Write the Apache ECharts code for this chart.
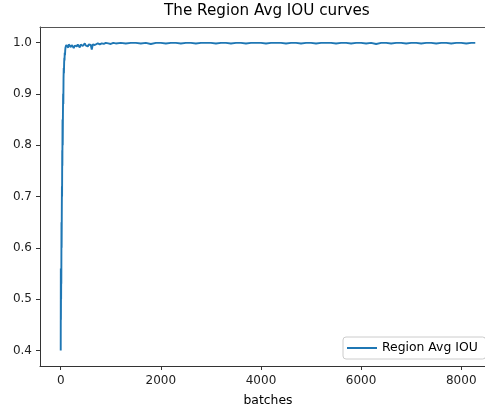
<!DOCTYPE html>
<html>
<head>
<meta charset="utf-8">
<script src="https://cdn.jsdelivr.net/npm/echarts@6/dist/echarts.min.js"></script>
<style>
  html, body { margin: 0; padding: 0; overflow: hidden; background: #fff; }
  #chart { width: 510px; height: 407px; }
</style>
</head>
<body>
<div id="chart"></div>
<script>
// x positions (batch numbers)
const batches = [
  0, 2, 4, 6, 8, 10, 12, 15, 18, 21, 24, 27, 30, 33, 36, 40, 44, 48, 52, 56,
  60, 64, 68, 72, 76, 80, 85, 90, 95, 100, 105, 110, 120, 130, 140, 150, 160, 175, 190, 205,
  220, 240, 260, 280, 300, 320, 340, 360, 380, 400, 420, 440, 460, 480, 500, 520, 540, 560, 580, 600,
  620, 640, 660, 680, 700, 740, 780, 820, 860, 900, 950, 1000, 1050, 1100,
  1200, 1300, 1400, 1500, 1600, 1700, 1800, 1900, 2000, 2100, 2200, 2300, 2400, 2500,
  2600, 2700, 2800, 2900, 3000, 3100, 3200, 3300, 3400, 3500, 3600, 3700, 3800, 3900,
  4000, 4100, 4200, 4300, 4400, 4500, 4600, 4700, 4800, 4900, 5000, 5100, 5200, 5300,
  5400, 5500, 5600, 5700, 5800, 5900, 6000, 6100, 6200, 6300, 6400, 6500, 6600, 6700,
  6800, 6900, 7000, 7100, 7200, 7300, 7400, 7500, 7600, 7700, 7800, 7900, 8000, 8100,
  8200, 8280
];

// Region Avg IOU values
const avgIou = [
  0.40, 0.56, 0.46, 0.55, 0.50, 0.56, 0.53, 0.65, 0.60, 0.66, 0.72, 0.70, 0.79, 0.76, 0.85, 0.80, 0.86, 0.90, 0.88, 0.93,
  0.95, 0.94, 0.96, 0.97, 0.965, 0.98, 0.975, 0.985, 0.99, 0.993, 0.99, 0.995, 0.996, 0.992, 0.995, 0.990, 0.996, 0.993, 0.997, 0.991,
  0.995, 0.996, 0.989, 0.994, 0.997, 0.992, 0.996, 0.995, 0.990, 0.996, 0.997, 0.993, 0.996, 0.998, 0.994, 0.997, 0.992, 0.996, 0.997, 0.995,
  0.986, 0.996, 0.997, 0.995, 0.997, 0.998, 0.996, 0.998, 0.997, 0.999, 0.998, 0.997, 0.999, 0.998,
  0.999, 0.998, 0.999, 0.999, 0.998, 0.999, 0.997, 0.999, 0.999, 0.998, 0.999, 0.999, 0.998, 0.999,
  0.999, 0.998, 0.999, 0.999, 0.999, 0.998, 0.999, 0.999, 0.998, 0.999, 0.999, 0.998, 0.999, 0.999,
  0.999, 0.998, 0.999, 0.999, 0.999, 0.998, 0.999, 0.999, 0.998, 0.999, 0.999, 0.998, 0.999, 0.999,
  0.999, 0.998, 0.999, 0.999, 0.998, 0.999, 0.999, 0.998, 0.999, 0.997, 0.999, 0.999, 0.998, 0.999,
  0.999, 0.998, 0.999, 0.999, 0.998, 0.999, 0.999, 0.998, 0.999, 0.999, 0.998, 0.999, 0.999, 0.998,
  0.999, 0.999
];

const xTicks = [0, 2000, 4000, 6000, 8000];
const yTicks = [0.4, 0.5, 0.6, 0.7, 0.8, 0.9, 1.0];

const chart = echarts.init(document.getElementById('chart'));
const font = 'DejaVu Sans';
const spine = '#333';

chart.setOption({
  animation: false,
  title: {
    text: 'The Region Avg IOU curves',
    left: 164,
    top: 4,
    padding: 0,
    textStyle: { fontFamily: font, fontSize: 15.2, fontWeight: 'normal', color: '#000' }
  },
  legend: {
    left: 343,
    top: 337,
    padding: [5, 8, 5, 4],
    backgroundColor: '#fff',
    borderColor: '#ccc',
    borderWidth: 1,
    borderRadius: 3,
    icon: 'rect',
    itemWidth: 30,
    itemHeight: 2,
    textStyle: { fontFamily: font, fontSize: 12.4, color: '#000' },
    data: ['Region Avg IOU']
  },
  grid: { left: 40, top: 27, right: 14, bottom: 41, outerBoundsMode: 'none', containLabel: false },
  xAxis: [{
    type: 'value',
    min: -414,
    max: 8694,
    name: 'batches',
    nameLocation: 'middle',
    nameGap: 29,
    nameTextStyle: { fontFamily: font, fontSize: 12.4, color: '#000' },
    splitLine: { show: false },
    axisLine: { onZero: false, lineStyle: { color: spine } },
    axisTick: { customValues: xTicks, length: 4, lineStyle: { color: spine } },
    axisLabel: {
      customValues: xTicks, margin: 9, fontFamily: font, fontSize: 12, color: '#222',
      formatter: v => String(v)
    }
  }, {
    // top spine
    type: 'value',
    position: 'top',
    min: -414,
    max: 8694,
    splitLine: { show: false },
    axisLine: { show: true, onZero: false, lineStyle: { color: '#555' } },
    axisTick: { show: false },
    axisLabel: { show: false }
  }],
  yAxis: {
    type: 'value',
    min: 0.37,
    max: 1.03,
    splitLine: { show: false },
    axisLine: { show: true, onZero: false, lineStyle: { color: spine } },
    axisTick: { show: true, customValues: yTicks, length: 4, lineStyle: { color: spine } },
    axisLabel: {
      customValues: yTicks, margin: 8, fontFamily: font, fontSize: 12, color: '#222',
      formatter: v => v.toFixed(1)
    }
  },
  series: [{
    name: 'Region Avg IOU',
    type: 'line',
    data: batches.map((b, i) => [b, avgIou[i]]),
    showSymbol: false,
    color: '#1f77b4',
    lineStyle: { width: 1.9, color: '#1f77b4' }
  }]
});
</script>
</body>
</html>
